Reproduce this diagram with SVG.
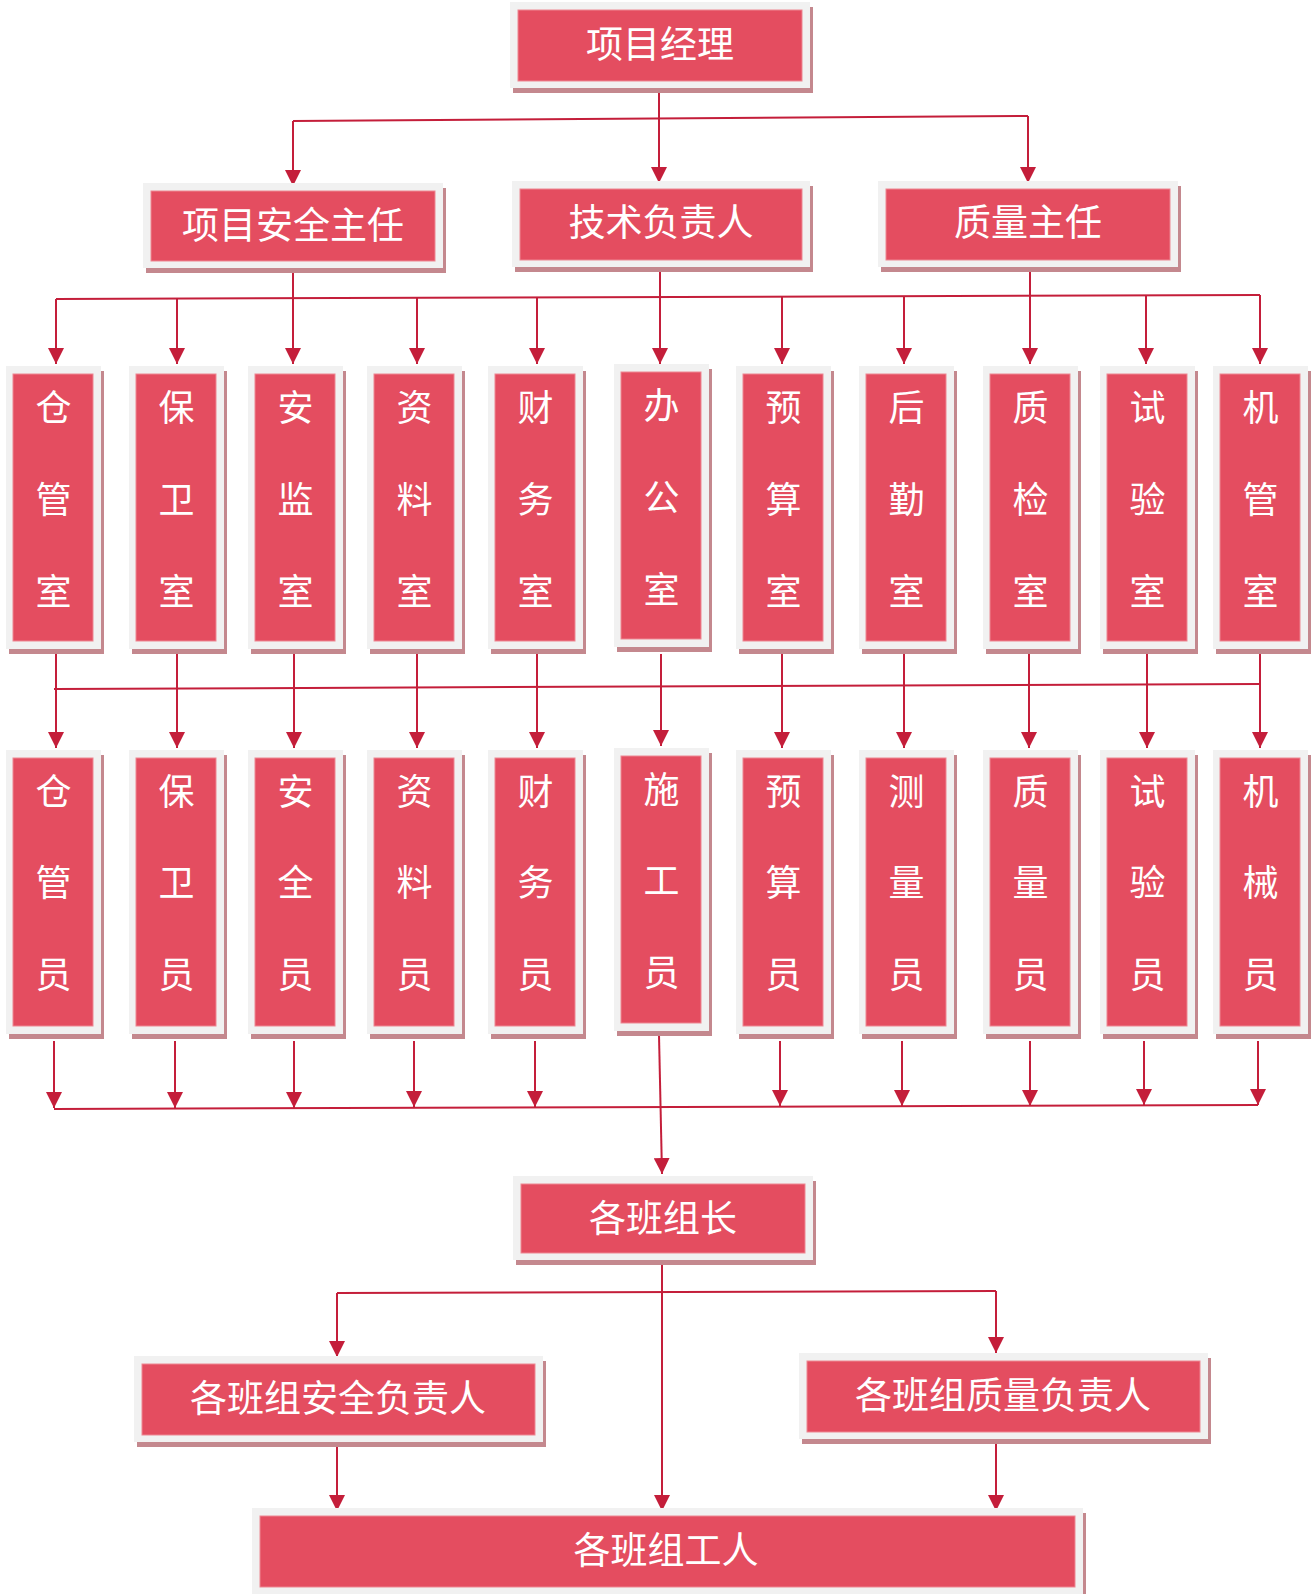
<svg xmlns="http://www.w3.org/2000/svg" width="1315" height="1594" viewBox="0 0 1315 1594">
<defs>
<style>
.sh{fill:#c4888e}
.fr{fill:#f1f1f1}
.in{fill:#e44d60;stroke:#ee8792;stroke-width:1}
.t{fill:#ffffff;font-family:"Noto Sans CJK SC","Noto Sans CJK TC",sans-serif;font-size:36px;text-anchor:middle}
.h{font-size:37px}
.c{fill:none;stroke:#c41e3a;stroke-width:2}
.a{marker-end:url(#arr)}
</style>
<marker id="arr" viewBox="0 0 16 16" refX="16" refY="8" markerWidth="16" markerHeight="16" markerUnits="userSpaceOnUse" orient="auto">
<path d="M0,0 L16,8 L0,16 z" fill="#c41e3a"/>
</marker>
</defs>
<rect width="1315" height="1594" fill="#ffffff"/>

<g id="connectors">
<path class="c a" d="M659,92 L659,183"/>
<path class="c" d="M293,121 L1028,116"/>
<path class="c a" d="M293,121 L293,186"/>
<path class="c a" d="M1028,116 L1028,183"/>
<path class="c" d="M56,299 L1260,295"/>
<path class="c a" d="M293,272 L293,364"/>
<path class="c a" d="M660,270 L660,364"/>
<path class="c a" d="M1030,270 L1030,364"/>
<path class="c a" d="M56,299 L56,364"/>
<path class="c a" d="M177,299 L177,364"/>
<path class="c a" d="M417,298 L417,364"/>
<path class="c a" d="M537,298 L537,364"/>
<path class="c a" d="M782,297 L782,364"/>
<path class="c a" d="M904,297 L904,364"/>
<path class="c a" d="M1146,295 L1146,364"/>
<path class="c a" d="M1260,295 L1260,364"/>
<path class="c" d="M54,689 L1260,684"/>
<path class="c a" d="M56,654 L56,748"/>
<path class="c a" d="M177,654 L177,748"/>
<path class="c a" d="M294,654 L294,748"/>
<path class="c a" d="M417,654 L417,748"/>
<path class="c a" d="M537,654 L537,748"/>
<path class="c a" d="M661,654 L661,746"/>
<path class="c a" d="M782,654 L782,748"/>
<path class="c a" d="M904,654 L904,748"/>
<path class="c a" d="M1029,654 L1029,748"/>
<path class="c a" d="M1147,654 L1147,748"/>
<path class="c a" d="M1260,654 L1260,748"/>
<path class="c" d="M54,1109 L1258,1105"/>
<path class="c a" d="M54,1041 L54,1108"/>
<path class="c a" d="M175,1041 L175,1108"/>
<path class="c a" d="M294,1041 L294,1108"/>
<path class="c a" d="M414,1041 L414,1107"/>
<path class="c a" d="M535,1041 L535,1107"/>
<path class="c a" d="M780,1041 L780,1106"/>
<path class="c a" d="M902,1041 L902,1106"/>
<path class="c a" d="M1030,1041 L1030,1106"/>
<path class="c a" d="M1144,1041 L1144,1105"/>
<path class="c a" d="M1258,1041 L1258,1105"/>
<path class="c a" d="M659,1035 L662,1174"/>
<path class="c a" d="M662,1264 L662,1511"/>
<path class="c" d="M337,1293 L996,1291"/>
<path class="c a" d="M337,1293 L337,1357"/>
<path class="c a" d="M996,1291 L996,1353"/>
<path class="c a" d="M337,1446 L337,1511"/>
<path class="c a" d="M996,1443 L996,1511"/>
</g>

<g id="n-xmjl">
<rect class="sh" x="513" y="7" width="300" height="86"/>
<rect class="fr" x="510" y="2" width="300" height="86"/>
<rect class="in" x="518" y="10" width="284" height="71"/>
<text class="t h" x="660" y="58">项目经理</text>
</g>
<g id="n-aqzr">
<rect class="sh" x="146" y="188" width="300" height="85"/>
<rect class="fr" x="143" y="183" width="300" height="85"/>
<rect class="in" x="151" y="191" width="284" height="70"/>
<text class="t h" x="293" y="239">项目安全主任</text>
</g>
<g id="n-jsfzr">
<rect class="sh" x="515" y="186" width="298" height="86"/>
<rect class="fr" x="512" y="181" width="298" height="86"/>
<rect class="in" x="520" y="189" width="282" height="71"/>
<text class="t h" x="661" y="236">技术负责人</text>
</g>
<g id="n-zlzr">
<rect class="sh" x="881" y="186" width="300" height="86"/>
<rect class="fr" x="878" y="181" width="300" height="86"/>
<rect class="in" x="886" y="189" width="284" height="71"/>
<text class="t h" x="1028" y="236">质量主任</text>
</g>

<g id="n-r3-1"><rect class="sh" x="9" y="371" width="95" height="283"/><rect class="fr" x="6" y="366" width="95" height="283"/><rect class="in" x="13" y="374" width="80" height="267"/><text class="t"><tspan x="53.5" y="421">仓</tspan><tspan x="53.5" y="513">管</tspan><tspan x="53.5" y="605">室</tspan></text></g>
<g id="n-r3-2"><rect class="sh" x="132" y="371" width="95" height="283"/><rect class="fr" x="129" y="366" width="95" height="283"/><rect class="in" x="136" y="374" width="80" height="267"/><text class="t"><tspan x="176.5" y="421">保</tspan><tspan x="176.5" y="513">卫</tspan><tspan x="176.5" y="605">室</tspan></text></g>
<g id="n-r3-3"><rect class="sh" x="251" y="371" width="95" height="283"/><rect class="fr" x="248" y="366" width="95" height="283"/><rect class="in" x="255" y="374" width="80" height="267"/><text class="t"><tspan x="295.5" y="421">安</tspan><tspan x="295.5" y="513">监</tspan><tspan x="295.5" y="605">室</tspan></text></g>
<g id="n-r3-4"><rect class="sh" x="370" y="371" width="95" height="283"/><rect class="fr" x="367" y="366" width="95" height="283"/><rect class="in" x="374" y="374" width="80" height="267"/><text class="t"><tspan x="414.5" y="421">资</tspan><tspan x="414.5" y="513">料</tspan><tspan x="414.5" y="605">室</tspan></text></g>
<g id="n-r3-5"><rect class="sh" x="491" y="371" width="95" height="283"/><rect class="fr" x="488" y="366" width="95" height="283"/><rect class="in" x="495" y="374" width="80" height="267"/><text class="t"><tspan x="535.5" y="421">财</tspan><tspan x="535.5" y="513">务</tspan><tspan x="535.5" y="605">室</tspan></text></g>
<g id="n-r3-6"><rect class="sh" x="617" y="369" width="95" height="283"/><rect class="fr" x="614" y="364" width="95" height="283"/><rect class="in" x="621" y="372" width="80" height="267"/><text class="t"><tspan x="661.5" y="419">办</tspan><tspan x="661.5" y="511">公</tspan><tspan x="661.5" y="603">室</tspan></text></g>
<g id="n-r3-7"><rect class="sh" x="739" y="371" width="95" height="283"/><rect class="fr" x="736" y="366" width="95" height="283"/><rect class="in" x="743" y="374" width="80" height="267"/><text class="t"><tspan x="783.5" y="421">预</tspan><tspan x="783.5" y="513">算</tspan><tspan x="783.5" y="605">室</tspan></text></g>
<g id="n-r3-8"><rect class="sh" x="862" y="371" width="95" height="283"/><rect class="fr" x="859" y="366" width="95" height="283"/><rect class="in" x="866" y="374" width="80" height="267"/><text class="t"><tspan x="906.5" y="421">后</tspan><tspan x="906.5" y="513">勤</tspan><tspan x="906.5" y="605">室</tspan></text></g>
<g id="n-r3-9"><rect class="sh" x="986" y="371" width="95" height="283"/><rect class="fr" x="983" y="366" width="95" height="283"/><rect class="in" x="990" y="374" width="80" height="267"/><text class="t"><tspan x="1030.5" y="421">质</tspan><tspan x="1030.5" y="513">检</tspan><tspan x="1030.5" y="605">室</tspan></text></g>
<g id="n-r3-10"><rect class="sh" x="1103" y="371" width="95" height="283"/><rect class="fr" x="1100" y="366" width="95" height="283"/><rect class="in" x="1107" y="374" width="80" height="267"/><text class="t"><tspan x="1147.5" y="421">试</tspan><tspan x="1147.5" y="513">验</tspan><tspan x="1147.5" y="605">室</tspan></text></g>
<g id="n-r3-11"><rect class="sh" x="1216" y="371" width="95" height="283"/><rect class="fr" x="1213" y="366" width="95" height="283"/><rect class="in" x="1220" y="374" width="80" height="267"/><text class="t"><tspan x="1260.5" y="421">机</tspan><tspan x="1260.5" y="513">管</tspan><tspan x="1260.5" y="605">室</tspan></text></g>

<g id="n-r4-1"><rect class="sh" x="9" y="755" width="95" height="284"/><rect class="fr" x="6" y="750" width="95" height="284"/><rect class="in" x="13" y="758" width="80" height="268"/><text class="t"><tspan x="53.5" y="805">仓</tspan><tspan x="53.5" y="896">管</tspan><tspan x="53.5" y="988">员</tspan></text></g>
<g id="n-r4-2"><rect class="sh" x="132" y="755" width="95" height="284"/><rect class="fr" x="129" y="750" width="95" height="284"/><rect class="in" x="136" y="758" width="80" height="268"/><text class="t"><tspan x="176.5" y="805">保</tspan><tspan x="176.5" y="896">卫</tspan><tspan x="176.5" y="988">员</tspan></text></g>
<g id="n-r4-3"><rect class="sh" x="251" y="755" width="95" height="284"/><rect class="fr" x="248" y="750" width="95" height="284"/><rect class="in" x="255" y="758" width="80" height="268"/><text class="t"><tspan x="295.5" y="805">安</tspan><tspan x="295.5" y="896">全</tspan><tspan x="295.5" y="988">员</tspan></text></g>
<g id="n-r4-4"><rect class="sh" x="370" y="755" width="95" height="284"/><rect class="fr" x="367" y="750" width="95" height="284"/><rect class="in" x="374" y="758" width="80" height="268"/><text class="t"><tspan x="414.5" y="805">资</tspan><tspan x="414.5" y="896">料</tspan><tspan x="414.5" y="988">员</tspan></text></g>
<g id="n-r4-5"><rect class="sh" x="491" y="755" width="95" height="284"/><rect class="fr" x="488" y="750" width="95" height="284"/><rect class="in" x="495" y="758" width="80" height="268"/><text class="t"><tspan x="535.5" y="805">财</tspan><tspan x="535.5" y="896">务</tspan><tspan x="535.5" y="988">员</tspan></text></g>
<g id="n-r4-6"><rect class="sh" x="617" y="753" width="95" height="283"/><rect class="fr" x="614" y="748" width="95" height="283"/><rect class="in" x="621" y="756" width="80" height="267"/><text class="t"><tspan x="661.5" y="803">施</tspan><tspan x="661.5" y="894">工</tspan><tspan x="661.5" y="986">员</tspan></text></g>
<g id="n-r4-7"><rect class="sh" x="739" y="755" width="95" height="284"/><rect class="fr" x="736" y="750" width="95" height="284"/><rect class="in" x="743" y="758" width="80" height="268"/><text class="t"><tspan x="783.5" y="805">预</tspan><tspan x="783.5" y="896">算</tspan><tspan x="783.5" y="988">员</tspan></text></g>
<g id="n-r4-8"><rect class="sh" x="862" y="755" width="95" height="284"/><rect class="fr" x="859" y="750" width="95" height="284"/><rect class="in" x="866" y="758" width="80" height="268"/><text class="t"><tspan x="906.5" y="805">测</tspan><tspan x="906.5" y="896">量</tspan><tspan x="906.5" y="988">员</tspan></text></g>
<g id="n-r4-9"><rect class="sh" x="986" y="755" width="95" height="284"/><rect class="fr" x="983" y="750" width="95" height="284"/><rect class="in" x="990" y="758" width="80" height="268"/><text class="t"><tspan x="1030.5" y="805">质</tspan><tspan x="1030.5" y="896">量</tspan><tspan x="1030.5" y="988">员</tspan></text></g>
<g id="n-r4-10"><rect class="sh" x="1103" y="755" width="95" height="284"/><rect class="fr" x="1100" y="750" width="95" height="284"/><rect class="in" x="1107" y="758" width="80" height="268"/><text class="t"><tspan x="1147.5" y="805">试</tspan><tspan x="1147.5" y="896">验</tspan><tspan x="1147.5" y="988">员</tspan></text></g>
<g id="n-r4-11"><rect class="sh" x="1216" y="755" width="95" height="284"/><rect class="fr" x="1213" y="750" width="95" height="284"/><rect class="in" x="1220" y="758" width="80" height="268"/><text class="t"><tspan x="1260.5" y="805">机</tspan><tspan x="1260.5" y="896">械</tspan><tspan x="1260.5" y="988">员</tspan></text></g>

<g id="n-gbzz">
<rect class="sh" x="516" y="1181" width="300" height="84"/>
<rect class="fr" x="513" y="1176" width="300" height="84"/>
<rect class="in" x="521" y="1184" width="284" height="69"/>
<text class="t h" x="663" y="1232">各班组长</text>
</g>
<g id="n-aqfzr">
<rect class="sh" x="137" y="1361" width="409" height="86"/>
<rect class="fr" x="134" y="1356" width="409" height="86"/>
<rect class="in" x="142" y="1364" width="393" height="71"/>
<text class="t h" x="338" y="1412">各班组安全负责人</text>
</g>
<g id="n-zlfzr">
<rect class="sh" x="802" y="1358" width="409" height="86"/>
<rect class="fr" x="799" y="1353" width="409" height="86"/>
<rect class="in" x="807" y="1361" width="393" height="71"/>
<text class="t h" x="1003" y="1409">各班组质量负责人</text>
</g>
<g id="n-gr">
<rect class="sh" x="255" y="1513" width="831" height="86"/>
<rect class="fr" x="252" y="1508" width="831" height="86"/>
<rect class="in" x="260" y="1516" width="815" height="71"/>
<text class="t h" x="666" y="1564">各班组工人</text>
</g>
</svg>
